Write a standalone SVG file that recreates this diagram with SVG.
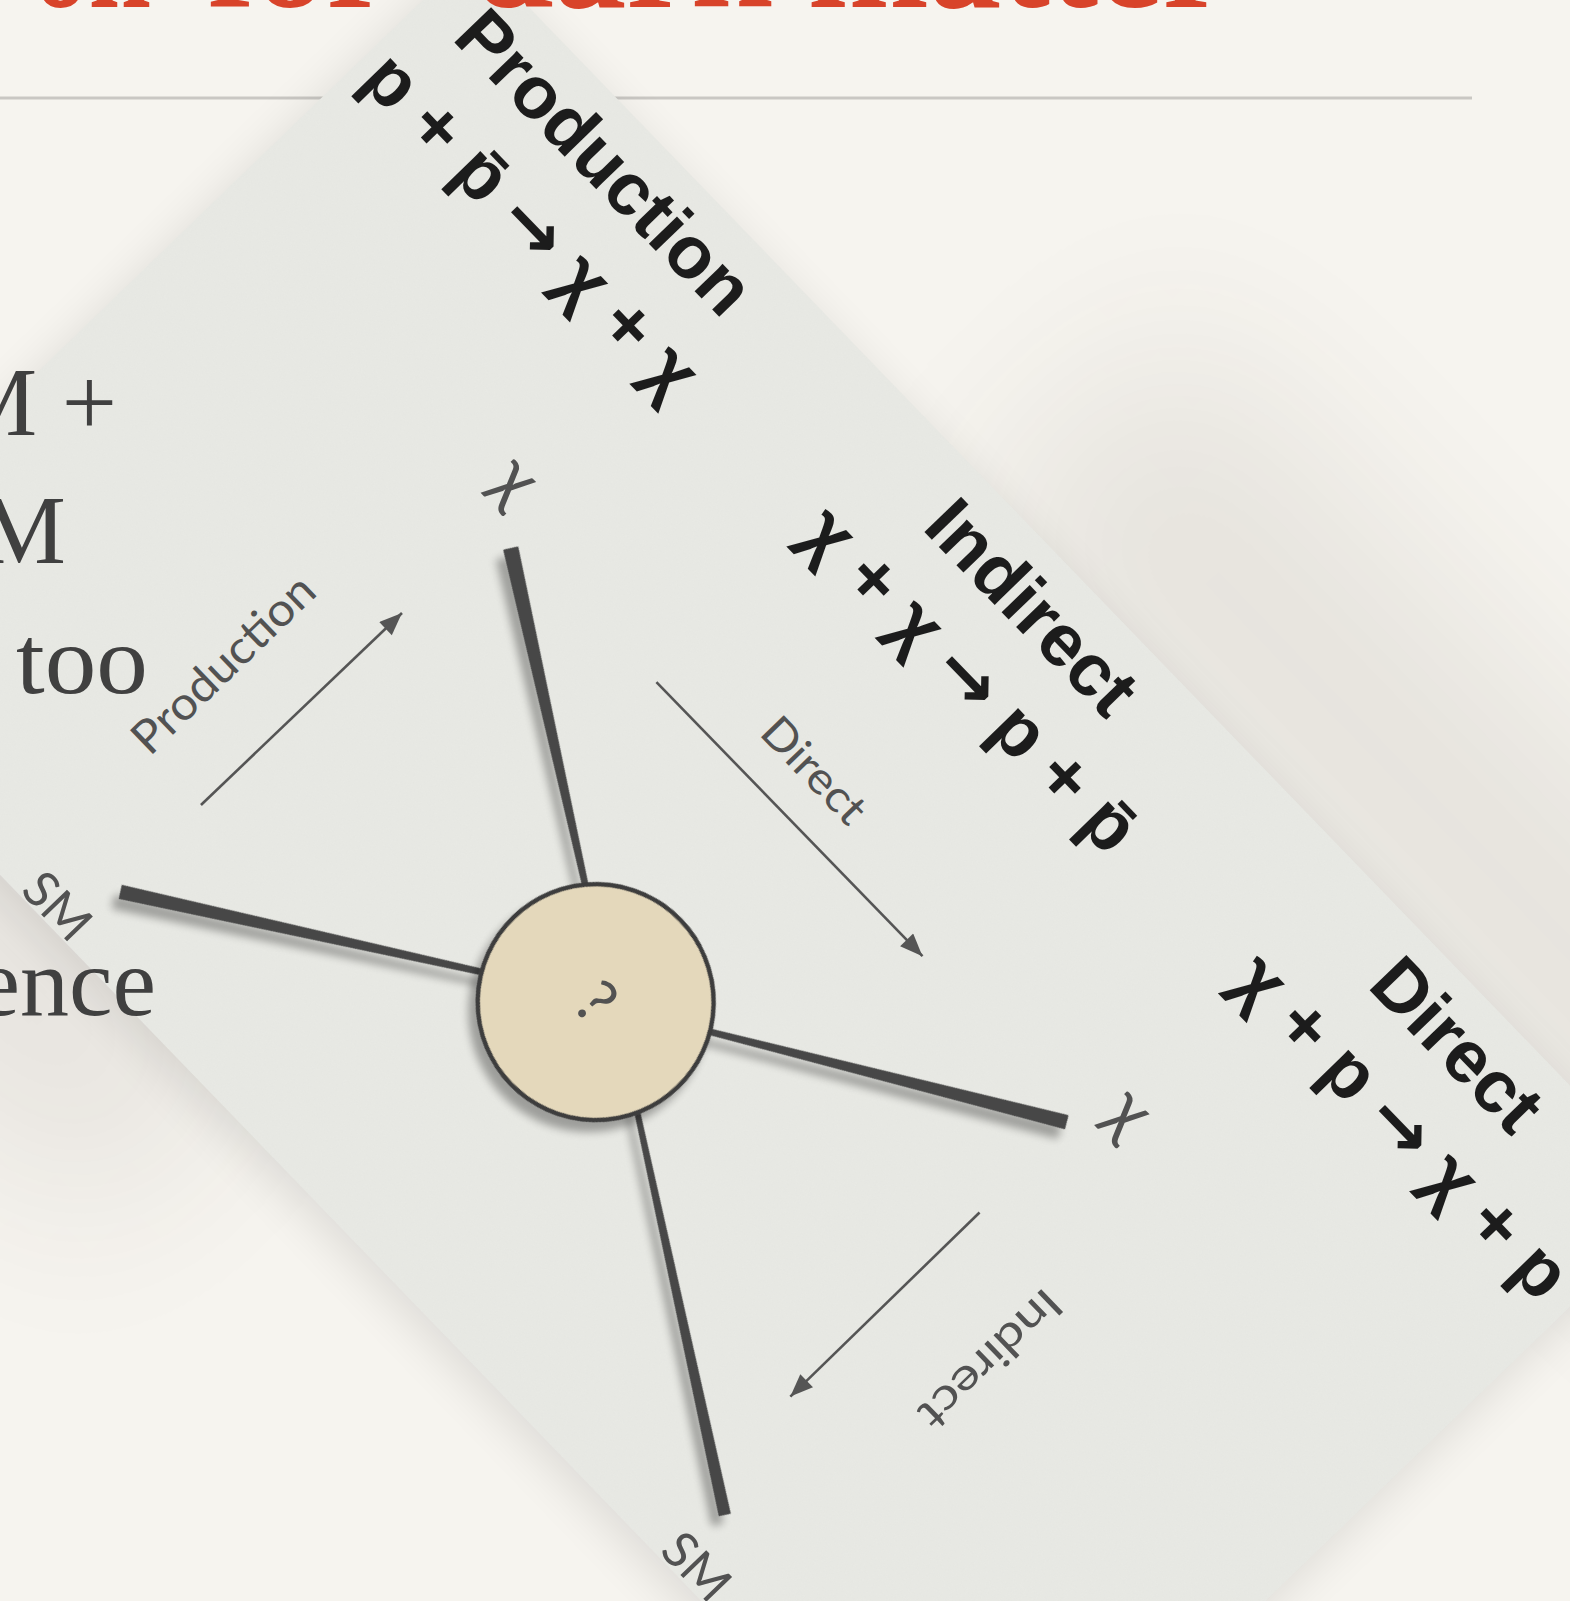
<svg xmlns="http://www.w3.org/2000/svg" width="1570" height="1601" viewBox="0 0 1570 1601">
<defs>
<style>
.bold{font-family:"Liberation Sans",Arial,sans-serif;font-weight:bold;font-size:74px;fill:#1c1c1c;text-anchor:middle}
.arr{font-family:"DejaVu Sans",sans-serif;font-weight:bold}
.hand{font-family:"Lato","Open Sans",sans-serif;font-weight:400;fill:#525252;text-anchor:middle}
.body{font-family:"Liberation Serif","DejaVu Serif",serif;font-size:98px;fill:#404040}
.title{font-family:"Liberation Serif","DejaVu Serif",serif;font-weight:bold;font-size:150px;fill:#d8432a}
.arrow{stroke:#555;stroke-width:2.6;fill:none;marker-end:url(#ah)}
.leg{fill:#474747;stroke:#474747;stroke-width:1.5;stroke-linejoin:round}
</style>
<marker id="ah" viewBox="0 0 10 8" refX="10" refY="4" markerWidth="9.5" markerHeight="7" orient="auto" markerUnits="strokeWidth">
<path d="M0,0 L10,4 L0,8 Z" fill="#555"/>
</marker>
<filter id="sh" x="-20%" y="-20%" width="140%" height="140%">
<feGaussianBlur in="SourceAlpha" stdDeviation="4"/>
<feOffset dx="2" dy="12" result="o"/>
<feComponentTransfer><feFuncA type="linear" slope="0.32"/></feComponentTransfer>
<feMerge><feMergeNode/><feMergeNode in="SourceGraphic"/></feMerge>
</filter>
<filter id="cardsh" x="-30%" y="-30%" width="160%" height="160%">
<feGaussianBlur stdDeviation="24"/>
</filter>
<filter id="softsh" x="-60%" y="-150%" width="220%" height="400%">
<feGaussianBlur stdDeviation="90"/>
</filter>
<filter id="paper" x="0" y="0" width="100%" height="100%">
<feTurbulence type="fractalNoise" baseFrequency="0.9" numOctaves="2" seed="3"/>
<feColorMatrix type="matrix" values="0 0 0 0 0.4  0 0 0 0 0.4  0 0 0 0 0.4  0 0 0 0.5 0"/>
</filter>
</defs>

<rect id="background" x="0" y="0" width="1570" height="1601" fill="#f6f4ef"/>
<line id="rule" x1="0" y1="98" x2="1472" y2="98" stroke="#c9c7c3" stroke-width="3"/>

<g id="card" transform="translate(474,-49.5) rotate(46)">
  <rect x="750" y="-260" width="1150" height="330" fill="#3a3020" opacity="0.08" filter="url(#softsh)"/>
  <rect x="-300" y="920" width="950" height="260" fill="#3a2a20" opacity="0.08" filter="url(#softsh)"/>
  <rect x="4" y="12" width="1737" height="983" fill="#000" opacity="0.10" filter="url(#cardsh)"/>
  <rect x="0" y="0" width="1737" height="983" fill="#e9eae5"/>
  <rect x="0" y="0" width="1737" height="983" filter="url(#paper)" opacity="0.12"/>

  <g id="connectors">
    <g filter="url(#sh)">
      <polygon class="leg" points="452.4,395.0 754.9,575.4 757.5,571.2 459.6,383.2"/>
      <polygon class="leg" points="435.6,913.4 746.1,703.1 743.3,698.9 428.4,902.6"/>
      <polygon class="leg" points="1250.6,382.5 933.1,583.8 935.7,588.0 1257.4,393.5"/>
      <polygon class="leg" points="1301.9,901.3 945.8,684.9 943.4,688.7 1296.1,910.7"/>
    </g>
    <line class="arrow" x1="425" y1="790" x2="426.5" y2="512"/>
    <line class="arrow" x1="653" y1="377" x2="1035" y2="376"/>
    <line class="arrow" x1="1259" y1="513" x2="1260" y2="777"/>
  </g>

  <g id="node-center">
    <circle cx="841" cy="643" r="118" fill="#e4d8bb" stroke="#3c3c3c" stroke-width="4.5" filter="url(#sh)"/>
    <text class="hand" x="841" y="664" font-size="62">?</text>
  </g>

  <g id="node-x-top"><text class="hand" x="410" y="360" font-size="70">χ</text></g>
  <g id="node-x-right"><text class="hand" x="1291" y="358" font-size="70">χ</text></g>
  <g id="node-sm-left"><text class="hand" x="398" y="981" font-size="50">SM</text></g>
  <g id="node-sm-bottom"><text class="hand" x="1317" y="980" font-size="50">SM</text></g>

  <g id="label-production"><text class="hand" transform="translate(340,676) rotate(-90)" x="0" y="15" font-size="46" textLength="235" lengthAdjust="spacingAndGlyphs">Production</text></g>
  <g id="label-direct"><text class="hand" x="826" y="340" font-size="44" textLength="130" lengthAdjust="spacingAndGlyphs">Direct</text></g>
  <g id="label-indirect"><text class="hand" transform="translate(1372,607) rotate(90)" x="0" y="15" font-size="44" textLength="180" lengthAdjust="spacingAndGlyphs">Indirect</text></g>

  <g id="node-production">
    <text class="bold" x="243" y="78">Production</text>
    <text class="bold" x="238" y="174">p + p̄ <tspan class="arr">→</tspan> χ + χ</text>
  </g>
  <g id="node-indirect">
    <text class="bold" x="860" y="80">Indirect</text>
    <text class="bold" x="869" y="174">χ + χ <tspan class="arr">→</tspan> p + p̄</text>
  </g>
  <g id="node-direct">
    <text class="bold" x="1470" y="78">Direct</text>
    <text class="bold" x="1490" y="174">χ + p <tspan class="arr">→</tspan> χ + p</text>
  </g>
</g>

<g id="title">
  <text class="title" x="33" y="7" textLength="118" lengthAdjust="spacingAndGlyphs">on</text>
  <text class="title" x="207" y="7" textLength="183" lengthAdjust="spacingAndGlyphs">for</text>
  <text class="title" x="473" y="7" textLength="754" lengthAdjust="spacingAndGlyphs">dark matter</text>
</g>

<g id="body-text">
  <text class="body" x="117" y="435" text-anchor="end">M +</text>
  <text class="body" x="66" y="563" text-anchor="end">M</text>
  <text class="body" x="16" y="693" textLength="132" lengthAdjust="spacingAndGlyphs">too</text>
  <text class="body" x="156" y="1015" text-anchor="end">ence</text>
</g>
</svg>
